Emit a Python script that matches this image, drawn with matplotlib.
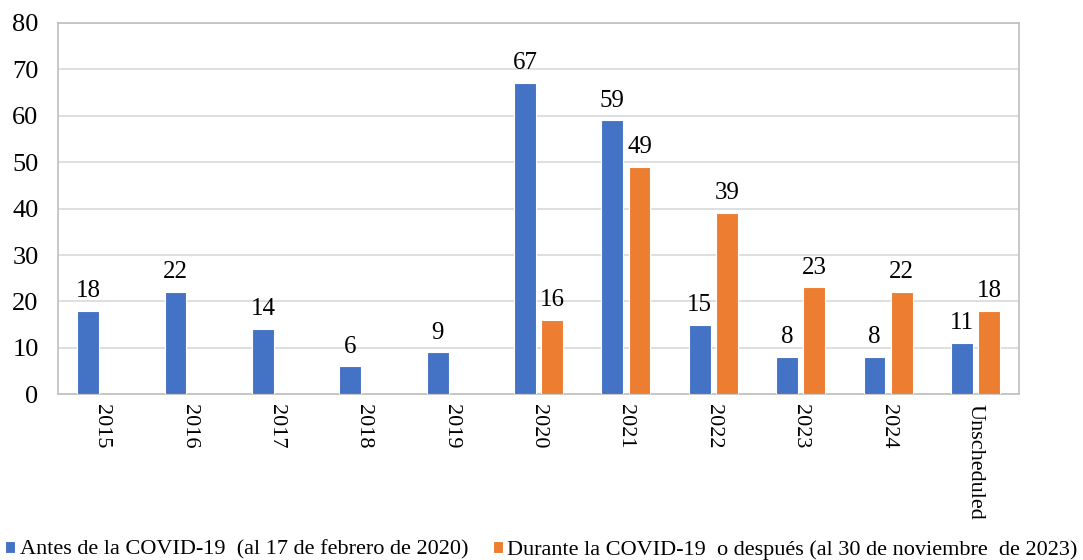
import matplotlib
matplotlib.use("Agg")
import matplotlib.pyplot as plt
import numpy as np

categories = ["2015", "2016", "2017", "2018", "2019", "2020", "2021", "2022", "2023", "2024", "Unscheduled"]
antes = [18, 22, 14, 6, 9, 67, 59, 15, 8, 8, 11]
durante = [None, None, None, None, None, 16, 49, 39, 23, 22, 18]
series_names = ["Antes de la COVID-19  (al 17 de febrero de 2020)",
                "Durante la COVID-19  o después (al 30 de noviembre  de 2023)"]

plt.rcParams['font.family'] = ['Liberation Serif', 'DejaVu Serif']

fig = plt.figure(figsize=(10.83, 5.6), dpi=100)
ax = fig.add_axes([0.0536, 0.296, 0.8874, 0.663])

x = np.arange(len(categories))
w = 0.25
off = 0.155
blue = "#4472C4"
orange = "#ED7D31"

xb = x - off
b1 = ax.bar(xb, antes, width=w, color=blue, edgecolor="white", linewidth=0.8, label=series_names[0], zorder=3)
idx = [i for i, v in enumerate(durante) if v is not None]
vals = [durante[i] for i in idx]
b2 = ax.bar(x[idx] + off, vals, width=w, color=orange, edgecolor="white", linewidth=0.8, label=series_names[1], zorder=3)

for xi, v in zip(xb, antes):
    ax.text(xi, v + 1.9, str(v), ha="center", va="bottom", fontsize=18)
for i, v in zip(idx, vals):
    ax.text(x[i] + off, v + 1.9, str(v), ha="center", va="bottom", fontsize=18)

ax.set_xlim(-0.5, len(categories) - 0.5)
ax.set_ylim(0, 80)
ax.set_yticks(range(0, 81, 10))
ax.yaxis.grid(True, color="#D9D9D9", linewidth=1.2, zorder=0)
ax.set_axisbelow(True)
for s in ax.spines.values():
    s.set_color("#BFBFBF")
    s.set_linewidth(1.2)
ax.tick_params(axis="y", length=0, labelsize=19, pad=14)
ax.tick_params(axis="x", length=0, labelsize=16, pad=7)
ax.set_xticks(x)
ax.set_xticklabels(categories, rotation=270, va="top", ha="center")

fig.legend(handles=[b1, b2], labels=series_names, loc="lower center",
           bbox_to_anchor=(0.5, -0.035), ncol=2, frameon=False, fontsize=16,
           handlelength=0.45, handleheight=0.45, handletextpad=0.2, columnspacing=1.1)

fig.savefig("out.png", dpi=100)
